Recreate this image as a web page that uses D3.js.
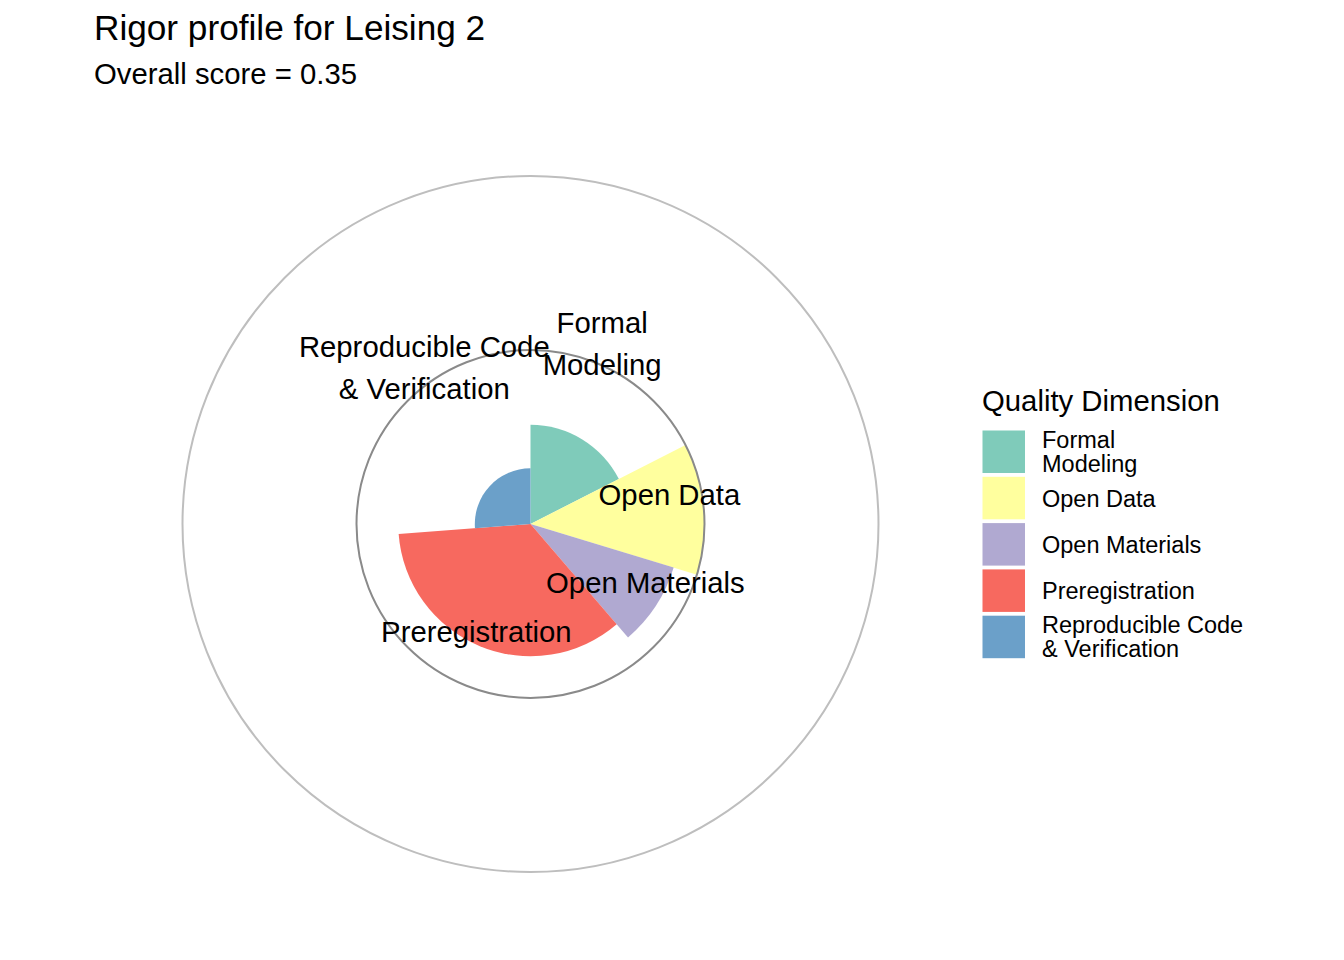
<!DOCTYPE html>
<html>
<head>
<meta charset="utf-8">
<script src="https://cdn.jsdelivr.net/npm/d3@7"></script>
<style>
  html, body { margin: 0; padding: 0; background: #fff; }
  svg { display: block; font-family: "Liberation Sans", Arial, Helvetica, sans-serif; }
</style>
</head>
<body>
<svg id="chart" width="1344" height="960"></svg>
<script>
// ---- data ----
const categories = ["Formal\nModeling", "Open Data", "Open Materials", "Preregistration", "Reproducible Code\n& Verification"];
const scores = [0.285, 0.50, 0.43, 0.38, 0.16];          // radial value
const weights = [0.175, 0.122, 0.090, 0.351, 0.262];     // angular share
const colors = ["#7FCBBA", "#FFFF9E", "#B0A9D1", "#F7695F", "#6BA0C9"];
// label anchor in data units (theta share, radius value)
const labelTheta = [0.060, 0.2167, 0.3245, 0.574, 0.905];
const labelR = [0.559, 0.408, 0.370, 0.347, 0.543];
const refCircles = [0.5, 1.0];
const title = "Rigor profile for Leising 2";
const subtitle = "Overall score = 0.35";
const legendTitle = "Quality Dimension";

// ---- layout ----
const svg = d3.select("#chart");
const cx = 530.5, cy = 524;
const r = d3.scaleLinear().domain([0, 1]).range([0, 348]);
const theta = d3.scaleLinear().domain([0, 1]).range([0, 2 * Math.PI]);

const cum = [0];
weights.forEach((w, i) => cum.push(cum[i] + w));
const slices = categories.map((c, i) => ({
  cat: c, score: scores[i], start: cum[i], end: cum[i + 1], color: colors[i],
  lt: labelTheta[i], lr: labelR[i]
}));

const g = svg.append("g").attr("transform", `translate(${cx},${cy})`);

const arc = d3.arc()
  .innerRadius(0)
  .outerRadius(d => r(d.score))
  .startAngle(d => theta(d.start))
  .endAngle(d => theta(d.end));

g.selectAll("path.slice").data(slices).join("path")
  .attr("class", "slice")
  .attr("d", arc)
  .attr("fill", d => d.color);

// reference circles
g.selectAll("circle.ref").data(refCircles).join("circle")
  .attr("class", "ref")
  .attr("r", d => r(d))
  .attr("fill", "none")
  .attr("stroke", d => d === 1 ? "#BEBEBE" : "#8A8A8A")
  .attr("stroke-width", 2);

// labels
const fs = 29.3, lh = 42;
const lbl = g.selectAll("text.lbl").data(slices).join("text")
  .attr("class", "lbl")
  .attr("text-anchor", "middle")
  .attr("font-size", fs)
  .attr("fill", "#000")
  .attr("transform", d => {
    const a = theta(d.lt), rr = r(d.lr);
    return `translate(${rr * Math.sin(a)},${-rr * Math.cos(a)})`;
  });
lbl.each(function(d) {
  const lines = d.cat.split("\n");
  const n = lines.length;
  d3.select(this).selectAll("tspan").data(lines).join("tspan")
    .attr("x", 0)
    .attr("y", (l, j) => (j - (n - 1) / 2) * lh + 0.36 * fs)
    .text(l => l);
});

// titles
svg.append("text").attr("x", 94).attr("y", 40)
  .attr("font-size", 35.2).attr("fill", "#000").text(title);
svg.append("text").attr("x", 94).attr("y", 83.5)
  .attr("font-size", 29.3).attr("fill", "#000").text(subtitle);

// legend
const lg = svg.append("g");
lg.append("text").attr("x", 982).attr("y", 411)
  .attr("font-size", 29.3).attr("fill", "#000").text(legendTitle);
const keyY0 = 430.5, keyStep = 46.3, keyH = 42.5, keyW = 42.5, keyX = 982.5;
const legRows = lg.selectAll("g.row").data(slices).join("g")
  .attr("class", "row")
  .attr("transform", (d, i) => `translate(0,${keyY0 + i * keyStep})`);
legRows.append("rect")
  .attr("x", keyX).attr("y", 0).attr("width", keyW).attr("height", keyH)
  .attr("fill", d => d.color);
const lfs = 23.5, llh = 24;
legRows.append("text")
  .attr("font-size", lfs).attr("fill", "#000")
  .each(function(d) {
    const lines = d.cat.split("\n");
    const n = lines.length;
    d3.select(this).selectAll("tspan").data(lines).join("tspan")
      .attr("x", 1042)
      .attr("y", (l, j) => keyH / 2 + (j - (n - 1) / 2) * llh + 0.36 * lfs)
      .text(l => l);
  });
</script>
</body>
</html>
